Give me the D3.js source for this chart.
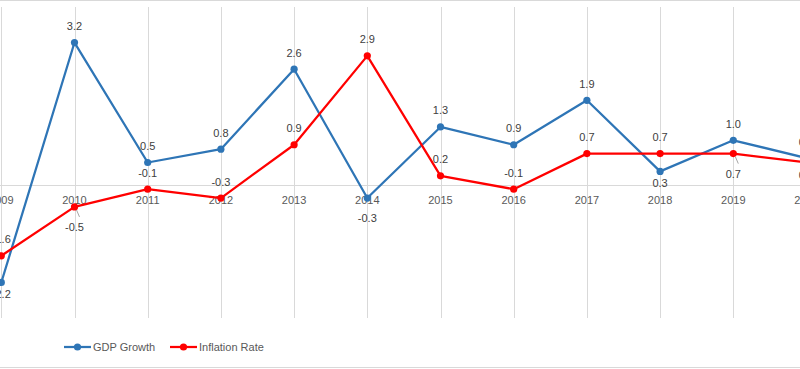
<!DOCTYPE html>
<html>
<head>
<meta charset="utf-8">
<script src="https://cdn.jsdelivr.net/npm/d3@7"></script>
<style>
    body { margin: 0; background: #fff; }
    svg { display: block; font-family: "Liberation Sans", Arial, sans-serif; }
    .grid line { stroke: #d9d9d9; stroke-width: 1; }
    .lbl { fill: #404040; font-size: 11px; }
    .cat { fill: #595959; font-size: 11px; }
</style>
</head>
<body>
<svg id="chart"></svg>
<script>
const width = 800,
    height = 369;

const years = ["2009", "2010", "2011", "2012", "2013", "2014", "2015", "2016", "2017", "2018", "2019", "2020"];
const gdpGrowth = [-2.2, 3.2, 0.5, 0.8, 2.6, -0.3, 1.3, 0.9, 1.9, 0.3, 1.0, 0.6];
const inflationRate = [-1.6, -0.5, -0.1, -0.3, 0.9, 2.9, 0.2, -0.1, 0.7, 0.7, 0.7, 0.5];
const seriesNames = ["GDP Growth", "Inflation Rate"];
const seriesColors = ["#2e75b6", "#ff0000"];

// where each data label sits: 1 = above, -1 = below, -2 = pushed further below
const gdpLabelSide = [-1, 1, 1, 1, 1, -2, 1, 1, 1, -1, 1, 1];
const inflLabelSide = [1, -2, 1, 1, 1, 1, 1, 1, 1, 1, -2, -1];

const plot = {top: 7, bottom: 318, left: 1.3, right: 806.5};

let svg = d3.select("#chart")
    .attr("width", width)
    .attr("height", height);

// outer frame lines (chart is cropped left and right)
svg.append("line").attr("x1", 0).attr("x2", width).attr("y1", 0.5).attr("y2", 0.5)
    .attr("stroke", "#d9d9d9");
svg.append("line").attr("x1", 0).attr("x2", width).attr("y1", height - 1.5).attr("y2", height - 1.5)
    .attr("stroke", "#d9d9d9");

let x = d3.scalePoint().domain(years).range([plot.left, plot.right]);
let y = d3.scaleLinear().domain([-3, 4]).range([plot.bottom, plot.top]);

// vertical gridlines
svg.append("g").attr("class", "grid")
    .selectAll("line").data(years).enter().append("line")
    .attr("x1", d => Math.round(x(d)) + 0.5)
    .attr("x2", d => Math.round(x(d)) + 0.5)
    .attr("y1", plot.top)
    .attr("y2", plot.bottom);

// zero axis line
svg.append("line")
    .attr("x1", 0).attr("x2", width)
    .attr("y1", Math.round(y(0)) + 0.5).attr("y2", Math.round(y(0)) + 0.5)
    .attr("stroke", "#d9d9d9");

// category labels sit just under the zero line
svg.append("g").selectAll("text").data(years).enter().append("text")
    .attr("class", "cat")
    .attr("x", d => x(d))
    .attr("y", y(0) + 19)
    .attr("text-anchor", "middle")
    .text(d => d);

function drawSeries(values, color, sides) {
    let pts = values.map((v, i) => ({year: years[i], v: v, side: sides[i]}));
    let line = d3.line().x(d => x(d.year)).y(d => y(d.v));
    let g = svg.append("g");
    g.append("path")
        .datum(pts)
        .attr("d", line)
        .attr("fill", "none")
        .attr("stroke", color)
        .attr("stroke-width", 2.25)
        .attr("stroke-linejoin", "round");
    g.selectAll("circle").data(pts).enter().append("circle")
        .attr("cx", d => x(d.year))
        .attr("cy", d => y(d.v))
        .attr("r", 3.6)
        .attr("fill", color);
    return pts;
}

function labelY(d) {
    if (d.side > 0) return y(d.v) - 12.5;
    if (d.side == -2) return y(d.v) + 24;
    return y(d.v) + 16;
}

function drawLabels(pts) {
    svg.append("g").selectAll("text").data(pts).enter().append("text")
        .attr("class", "lbl")
        .attr("x", d => x(d.year))
        .attr("y", labelY)
        .attr("text-anchor", "middle")
        .text(d => d3.format(".1f")(d.v).replace("−", "-"));
}

let gdpPts = drawSeries(gdpGrowth, seriesColors[0], gdpLabelSide);
let inflPts = drawSeries(inflationRate, seriesColors[1], inflLabelSide);

// small leader lines for the labels pushed below the red line
inflPts.filter(d => d.side == -2).forEach(d => {
    svg.append("line")
        .attr("x1", x(d.year) + 2).attr("y1", y(d.v) + 3)
        .attr("x2", x(d.year) + 5).attr("y2", y(d.v) + 10)
        .attr("stroke", "#a6a6a6").attr("stroke-width", 1);
});

drawLabels(gdpPts);
drawLabels(inflPts);

// legend
let legendX = [64, 170];
let legend = svg.append("g").selectAll("g").data(seriesNames).enter().append("g")
    .attr("transform", (d, i) => `translate(${legendX[i]},347)`);
legend.append("line")
    .attr("x1", 0).attr("x2", 27)
    .attr("stroke", (d, i) => seriesColors[i])
    .attr("stroke-width", 2.25);
legend.append("circle")
    .attr("cx", 13.5).attr("r", 3.6)
    .attr("fill", (d, i) => seriesColors[i]);
legend.append("text")
    .attr("class", "cat")
    .attr("x", 29).attr("y", 4)
    .text(d => d);
</script>
</body>
</html>
